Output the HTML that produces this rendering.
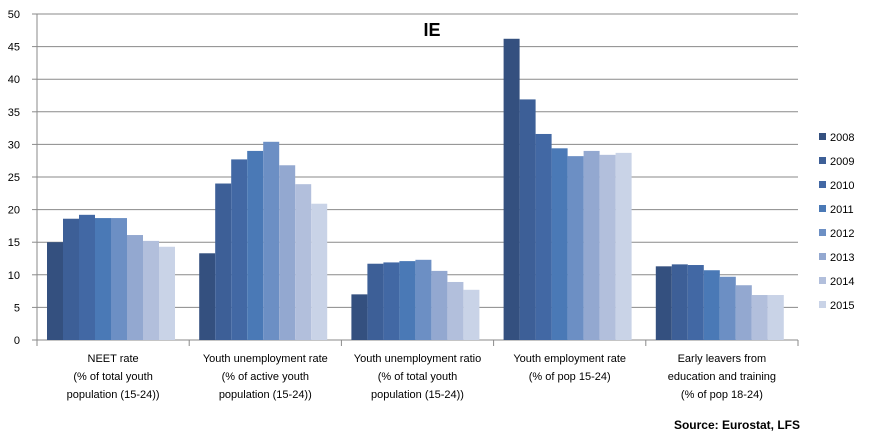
<!DOCTYPE html>
<html><head><meta charset="utf-8"><style>
body{margin:0;background:#fff;}
svg{display:block;font-family:"Liberation Sans",sans-serif;}
</style></head><body>
<svg id="c" width="870" height="445" xmlns="http://www.w3.org/2000/svg"></svg>
<script>
const s=document.getElementById('c');
let h='';
const y0=340,k=6.52,x0=37,gw=152.2;
for(let v=0;v<=50;v+=5){const y=y0-v*k;
 if(v>0)h+=`<line x1="${x0}" x2="798" y1="${y}" y2="${y}" stroke="#8a8a8a" stroke-width="1"/>`;
 h+=`<line x1="32" x2="${x0}" y1="${y}" y2="${y}" stroke="#8a8a8a"/>`;
 h+=`<text x="20" y="${y+4}" font-size="11" text-anchor="end" fill="#000">${v}</text>`;}
h+=`<line x1="${x0}" x2="${x0}" y1="14" y2="${y0}" stroke="#8a8a8a"/>`;
h+=`<line x1="${x0}" x2="798" y1="${y0}" y2="${y0}" stroke="#8a8a8a"/>`;
for(let g=0;g<=5;g++){const x=x0+g*gw;h+=`<line x1="${x}" x2="${x}" y1="${y0}" y2="${y0+6}" stroke="#8a8a8a"/>`;}
const col=['#34507f','#3d5f97','#4268a4','#4a79b6','#6c8fc4','#93a8d0','#b2bfdc','#c9d3e7'];
const d=[[15,18.6,19.2,18.7,18.7,16.1,15.2,14.3],[13.3,24,27.7,29,30.4,26.8,23.9,20.9],[7,11.7,11.9,12.1,12.3,10.6,8.9,7.7],[46.2,36.9,31.6,29.4,28.2,29,28.4,28.7],[11.3,11.6,11.5,10.7,9.7,8.4,6.9,6.9]];
d.forEach((a,g)=>a.forEach((v,i)=>{const x=x0+g*gw+10+i*16;h+=`<rect x="${x}" y="${y0-v*k}" width="16" height="${v*k}" fill="${col[i]}"/>`;}));
const lab=[["NEET rate","(% of total youth","population (15-24))"],["Youth unemployment rate","(% of active youth","population (15-24))"],["Youth unemployment ratio","(% of total youth","population (15-24))"],["Youth employment rate","(% of pop 15-24)"],["Early leavers from","education and training","(% of pop 18-24)"]];
lab.forEach((l,g)=>l.forEach((t,j)=>{h+=`<text x="${x0+g*gw+gw/2}" y="${362+j*18}" font-size="11" text-anchor="middle">${t}</text>`;}));
for(let i=0;i<8;i++){const y=138+i*24;h+=`<rect x="819" y="${y-5}" width="7" height="7" fill="${col[i]}"/><text x="830" y="${y+3}" font-size="11">${2008+i}</text>`;}
h+=`<text x="432" y="36" font-size="18" font-weight="bold" text-anchor="middle">IE</text>`;
h+=`<text x="800" y="429" font-size="12" font-weight="bold" text-anchor="end">Source: Eurostat, LFS</text>`;
s.innerHTML=h;
</script>
</body></html>
